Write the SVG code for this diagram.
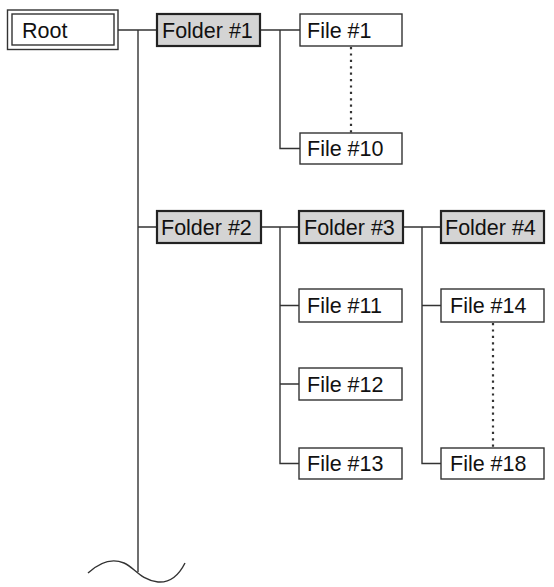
<svg xmlns="http://www.w3.org/2000/svg" width="554" height="587" viewBox="0 0 554 587">
<style>
text{font-family:"Liberation Sans",Arial,sans-serif;font-size:21.5px;fill:#111}
.file{fill:#fff;stroke:#333;stroke-width:1.4}
.folder{fill:#d4d4d4;stroke:#222;stroke-width:2.2}
.ln{fill:none;stroke:#333;stroke-width:1.4}
.dot{fill:none;stroke:#333;stroke-width:2.2;stroke-dasharray:2.2 4.2}
</style>
<rect width="554" height="587" fill="#fff"/>
<g id="connectors">
<path class="ln" d="M118 30H157M138 30V572M138 227H157"/>
<path class="ln" d="M88 573C100 562 112 558 124 563C134 567 140 580 158 582C172 583 180 573 185 563"/>
<path class="ln" d="M260 30H300M280 30V148.5H300"/>
<path class="dot" d="M351 47V133"/>
<path class="ln" d="M261 227H299M280 227V463.5H299M280 305.5H299M280 384H299"/>
<path class="ln" d="M403 227H441M422 227V463.5H441M422 305.5H441"/>
<path class="dot" d="M493 323V448"/>
</g>
<g id="root"><rect x="7.5" y="10" width="110.5" height="39.5" fill="#fff" stroke="#333" stroke-width="1.4"/><rect x="12" y="14" width="102" height="31" fill="none" stroke="#333" stroke-width="1.4"/><text x="22" y="37.5">Root</text></g>
<g id="folder1"><rect class="folder" x="157" y="14" width="103" height="32"/><text x="162" y="37.5">Folder #1</text></g>
<g id="file1"><rect class="file" x="300" y="14" width="102" height="32"/><text x="307" y="37.5">File #1</text></g>
<g id="file10"><rect class="file" x="300" y="133" width="102" height="31"/><text x="307" y="156">File #10</text></g>
<g id="folder2"><rect class="folder" x="157" y="211" width="104" height="32"/><text x="161" y="234.5">Folder #2</text></g>
<g id="folder3"><rect class="folder" x="299" y="211" width="104" height="32"/><text x="304" y="234.5">Folder #3</text></g>
<g id="folder4"><rect class="folder" x="441" y="211" width="103" height="32"/><text x="445" y="234.5">Folder #4</text></g>
<g id="file11"><rect class="file" x="299" y="289" width="103" height="33"/><text x="307" y="313">File #11</text></g>
<g id="file12"><rect class="file" x="299" y="368" width="103" height="32"/><text x="307" y="391.5">File #12</text></g>
<g id="file13"><rect class="file" x="299" y="448" width="103" height="31"/><text x="307" y="471">File #13</text></g>
<g id="file14"><rect class="file" x="441" y="289" width="103" height="33"/><text x="450" y="313">File #14</text></g>
<g id="file18"><rect class="file" x="441" y="448" width="103" height="31"/><text x="450" y="471">File #18</text></g>
</svg>
